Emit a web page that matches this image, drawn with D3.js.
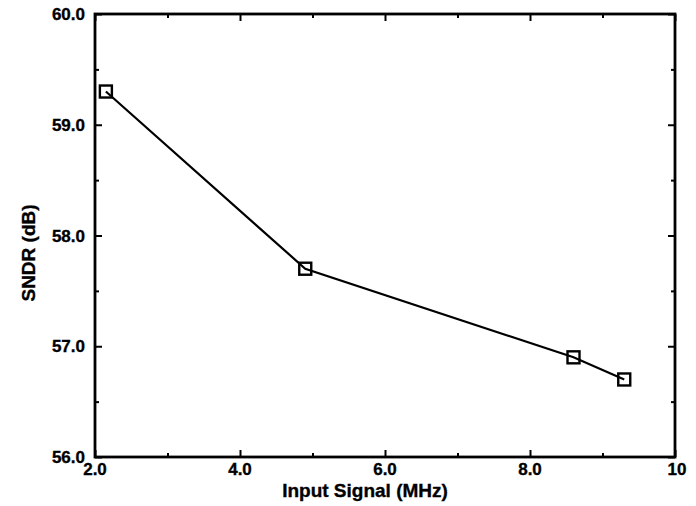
<!DOCTYPE html>
<html>
<head>
<meta charset="utf-8">
<script src="https://cdn.jsdelivr.net/npm/d3@7"></script>
<style>
  body { margin: 0; background: #fff; }
  text { font-family: "Liberation Sans", Arial, Helvetica, sans-serif; font-weight: bold; fill: #000; stroke: #000; stroke-width: 0.35px; }
</style>
</head>
<body>
<script>
// input signal frequency (MHz) and measured SNDR (dB)
var freq = [2.15, 4.9, 8.6, 9.3];
var sndr = [59.3, 57.7, 56.9, 56.7];

var xMajor = [2, 4, 6, 8, 10];
var xMajorLabels = ["2.0", "4.0", "6.0", "8.0", "10"];
var xMinor = [3, 5, 7, 9];
var yMajor = [56, 57, 58, 59, 60];
var yMajorLabels = ["56.0", "57.0", "58.0", "59.0", "60.0"];
var yMinor = [56.5, 57.5, 58.5, 59.5];

var width = 696,
    height = 506,
    pLeft = 95, pRight = 675, pTop = 14, pBottom = 457;

var svg = d3.select("body")
            .append("svg")
            .attr("width", width)
            .attr("height", height);

var xScale = d3.scaleLinear().domain([2, 10]).range([pLeft, pRight]);
var yScale = d3.scaleLinear().domain([56, 60]).range([pBottom, pTop]);

function tickAxis(axisFn, scale, values, size, pos) {
    var g = svg.append("g")
        .attr("transform", pos)
        .call(axisFn(scale).tickValues(values).tickSizeInner(-size).tickSizeOuter(0).tickFormat(""));
    g.select(".domain").remove();
    g.selectAll("line").attr("stroke", "#000").attr("stroke-width", 2);
    return g;
}

// major + minor ticks on all four sides, pointing inward
tickAxis(d3.axisBottom, xScale, xMajor, 7, "translate(0," + pBottom + ")");
tickAxis(d3.axisBottom, xScale, xMinor, 4, "translate(0," + pBottom + ")");
tickAxis(d3.axisTop, xScale, xMajor, 7, "translate(0," + pTop + ")");
tickAxis(d3.axisTop, xScale, xMinor, 4, "translate(0," + pTop + ")");
tickAxis(d3.axisLeft, yScale, yMajor, 7, "translate(" + pLeft + ",0)");
tickAxis(d3.axisLeft, yScale, yMinor, 4, "translate(" + pLeft + ",0)");
tickAxis(d3.axisRight, yScale, yMajor, 7, "translate(" + pRight + ",0)");
tickAxis(d3.axisRight, yScale, yMinor, 4, "translate(" + pRight + ",0)");

// frame
svg.append("rect")
    .attr("x", pLeft).attr("y", pTop)
    .attr("width", pRight - pLeft).attr("height", pBottom - pTop)
    .attr("fill", "none").attr("stroke", "#000").attr("stroke-width", 2.8);

// tick labels
svg.append("g").selectAll("text")
    .data(xMajor)
    .enter().append("text")
    .attr("x", function (d) { return xScale(d) + (d === 10 ? 2 : 0); })
    .attr("y", pBottom + 18)
    .attr("text-anchor", "middle")
    .style("font-size", "17px")
    .text(function (d, i) { return xMajorLabels[i]; });

svg.append("g").selectAll("text")
    .data(yMajor)
    .enter().append("text")
    .attr("x", pLeft - 10)
    .attr("y", function (d) { return yScale(d) + 6; })
    .attr("text-anchor", "end")
    .style("font-size", "17px")
    .text(function (d, i) { return yMajorLabels[i]; });

// axis titles
svg.append("text")
    .attr("x", 365).attr("y", 497)
    .attr("text-anchor", "middle")
    .style("font-size", "19px")
    .text("Input Signal (MHz)");

svg.append("text")
    .attr("transform", "translate(35,253) rotate(-90)")
    .attr("text-anchor", "middle")
    .style("font-size", "19px")
    .text("SNDR (dB)");

// data
var data = freq.map(function (f, i) { return { x: f, y: sndr[i] }; });

var line = d3.line()
    .x(function (d) { return xScale(d.x); })
    .y(function (d) { return yScale(d.y); });

svg.append("path")
    .datum(data)
    .attr("d", line)
    .attr("fill", "none")
    .attr("stroke", "#000")
    .attr("stroke-width", 2.2);

var s = 12;
svg.append("g").selectAll("rect")
    .data(data)
    .enter().append("rect")
    .attr("x", function (d) { return xScale(d.x) - s / 2; })
    .attr("y", function (d) { return yScale(d.y) - s / 2; })
    .attr("width", s)
    .attr("height", s)
    .attr("fill", "none")
    .attr("stroke", "#000")
    .attr("stroke-width", 2.4);
</script>
</body>
</html>
